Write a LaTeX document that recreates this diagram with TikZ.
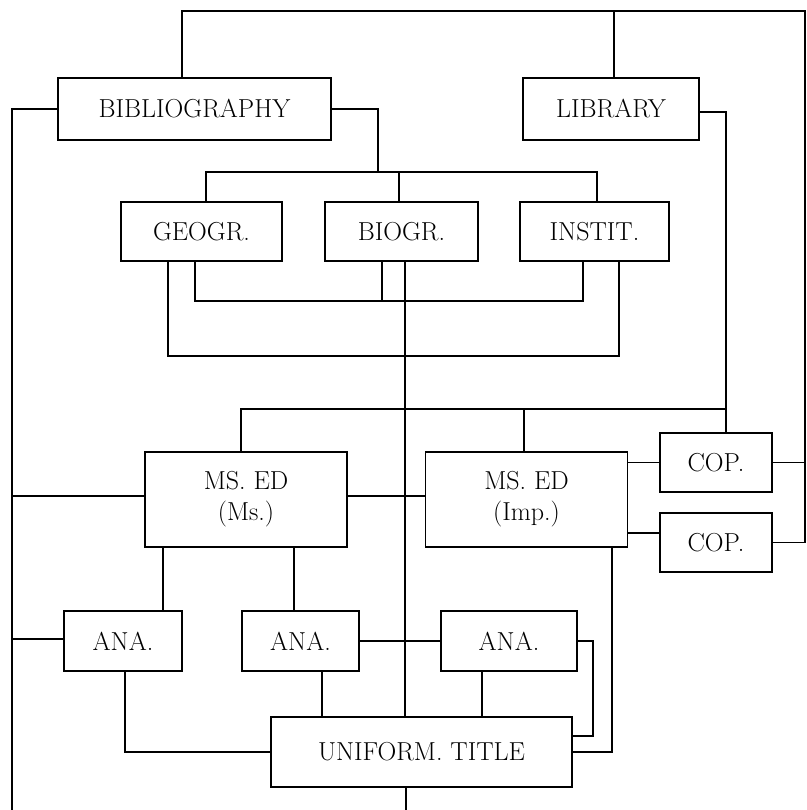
\documentclass[tikz,border=0pt]{standalone}
\usepackage{tikz}
\tikzstyle{box}=[draw, inner sep=0, outer sep=0, align=center, font=\fontsize{26}{31}\selectfont]
\tikzstyle{wbox}=[box, minimum height=62pt]
\tikzstyle{mbox}=[box, minimum height=59pt]
\tikzstyle{edbox}=[box, minimum width=202pt, minimum height=95pt]
\tikzstyle{anabox}=[box, minimum height=60pt]
\tikzstyle{lines}=[x=1pt, y=-1pt, line width=1.3pt, line join=miter]

\begin{document}
\begin{tikzpicture}[lines]
        \useasboundingbox (0, 0) rectangle (806, 810);
        % boxes
        \node[wbox, minimum width=273pt] (bib) at (194.5, 109) {BIBLIOGRAPHY};
        \node[wbox, minimum width=176pt] (lib) at (611, 109) {LIBRARY};
        \node[mbox, minimum width=161pt] (geo) at (201.5, 231.5) {GEOGR.};
        \node[mbox, minimum width=153pt] (bio) at (401.5, 231.5) {BIOGR.};
        \node[mbox, minimum width=149pt] (inst) at (594.5, 231.5) {INSTIT.};
        \node[edbox] (msms) at (246, 499.5) {MS. ED\\(Ms.)};
        \node[edbox] (msimp) at (526.5, 499.5) {MS. ED\\(Imp.)};
        \node[mbox, minimum width=112pt] (cop1) at (716, 462.5) {COP.};
        \node[mbox, minimum width=112pt] (cop2) at (716, 542.5) {COP.};
        \node[anabox, minimum width=118pt] (ana1) at (123, 641) {ANA.};
        \node[anabox, minimum width=117pt] (ana2) at (300.5, 641) {ANA.};
        \node[anabox, minimum width=136pt] (ana3) at (509, 641) {ANA.};
        \node[box, minimum width=301pt, minimum height=70pt] (uni) at (421.5, 752) {UNIFORM. TITLE};
        % frame points
        \coordinate (tr) at (805, 11);
        \coordinate (bl) at (12, 810);
        \coordinate (gbus) at (378, 172);
        \coordinate (msbus) at (726, 409);
        % outer frame
        \draw ([xshift=-12.5pt]bib.north) |- (tr) |- (cop2.east);
        \draw ([xshift=3pt]lib.north) -- ([xshift=3pt]lib.north |- tr);
        \draw (cop1.east) -- (cop1.east -| tr);
        \draw (bib.west) -| (bl);
        \draw ([yshift=3.5pt]msms.west) -- ([yshift=3.5pt]msms.west -| bl);
        \draw ([yshift=2pt]ana1.west) -- ([yshift=2pt]ana1.west -| bl);
        % subjects
        \draw (bib.east) -| (gbus);
        \draw ([xshift=4.5pt]geo.north) |- (gbus) -| ([xshift=2.5pt]inst.north);
        \draw ([xshift=-2.5pt]bio.north) -- ([xshift=-2.5pt]bio.north |- gbus);
        \draw ([xshift=-6.5pt]geo.south) -- ++(0, 40) -| ([xshift=-11.5pt]inst.south);
        \draw ([xshift=-19.5pt]bio.south) -- ++(0, 40);
        \draw ([xshift=-33.5pt]geo.south) -- ++(0, 95) -| ([xshift=24.5pt]inst.south);
        \draw ([xshift=3.5pt]bio.south) -- ([xshift=3.5pt]bio.south |- uni.north);
        % editions
        \draw ([yshift=-3pt]lib.east) -| ([xshift=10pt]cop1.north);
        \draw ([xshift=-5pt]msms.north) |- (msbus);
        \draw ([xshift=-2.5pt]msimp.north) -- ([xshift=-2.5pt]msimp.north |- msbus);
        \draw ([yshift=3.5pt]msms.east) -- ([yshift=3.5pt]msimp.west);
        \draw (cop1.west) -- (cop1.west -| msimp.east);
        \draw ([yshift=9.5pt]cop2.west) -- ([yshift=9.5pt]cop2.west -| msimp.east);
        % analytics
        \draw ([xshift=40pt]ana1.north) -- ([xshift=40pt]ana1.north |- msms.south);
        \draw ([xshift=-6.5pt]ana2.north) -- ([xshift=-6.5pt]ana2.north |- msms.south);
        \draw (ana2.east) -- (ana3.west);
        \draw ([xshift=2pt]ana1.south) |- (uni.west);
        \draw ([xshift=21.5pt]ana2.south) -- ([xshift=21.5pt]ana2.south |- uni.north);
        \draw ([xshift=-27pt]ana3.south) -- ([xshift=-27pt]ana3.south |- uni.north);
        \draw (ana3.east) -- ++(16, 0) |- ([yshift=16pt]uni.east);
        \draw ([xshift=85.5pt]msimp.south) |- (uni.east);
        \draw ([xshift=-15.5pt]uni.south) -- ++(0, 23);
    \end{tikzpicture}
\end{document}
